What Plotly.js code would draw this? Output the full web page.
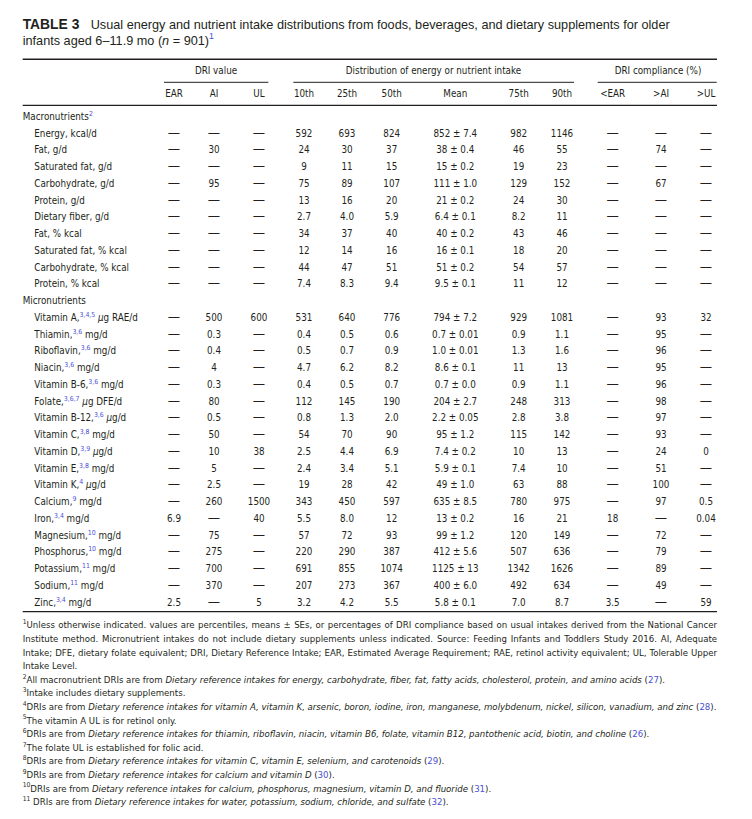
<!DOCTYPE html>
<html><head><meta charset="utf-8">
<script src="https://cdn.plot.ly/plotly-3.0.1.min.js"></script>
<style>html,body{margin:0;padding:0;background:#fff}#chart{width:752px;height:819px}</style>
</head><body><div id="chart"></div>
<script>
// ---------------- DATA ----------------
const sections = ['Macronutrients', 'Micronutrients'];
const sectionRefs = ['2', null];
const sectionCounts = [10, 18];

const rowLabels = ['Energy, kcal/d','Fat, g/d','Saturated fat, g/d','Carbohydrate, g/d','Protein, g/d','Dietary fiber, g/d','Fat, % kcal','Saturated fat, % kcal','Carbohydrate, % kcal','Protein, % kcal',
  'Vitamin A','Thiamin','Riboflavin','Niacin','Vitamin B-6','Folate','Vitamin B-12','Vitamin C','Vitamin D','Vitamin E','Vitamin K','Calcium','Iron','Magnesium','Phosphorus','Potassium','Sodium','Zinc'];
const rowRefs = [null,null,null,null,null,null,null,null,null,null,
  '3,4,5','3,6','3,6','3,6','3,6','3,6,7','3,6','3,8','3,9','3,8','4','9','3,4','10','10','11','11','3,4'];
const rowUnits = [null,null,null,null,null,null,null,null,null,null,
  'μg RAE/d','mg/d','mg/d','mg/d','mg/d','μg DFE/d','μg/d','mg/d','μg/d','mg/d','μg/d','mg/d','mg/d','mg/d','mg/d','mg/d','mg/d','mg/d'];

const colHeaders = ['EAR','AI','UL','10th','25th','50th','Mean','75th','90th','&lt;EAR','&gt;AI','&gt;UL'];
const groupHeaders = ['DRI value','Distribution of energy or nutrient intake','DRI compliance (%)'];

const EAR = [null,null,null,null,null,null,null,null,null,null,
  null,null,null,null,null,null,null,null,null,null,null,null,'6.9',null,null,null,null,'2.5'];
const AI = [null,'30',null,'95',null,null,null,null,null,null,
  '500','0.3','0.4','4','0.3','80','0.5','50','10','5','2.5','260',null,'75','275','700','370',null];
const UL = [null,null,null,null,null,null,null,null,null,null,
  '600',null,null,null,null,null,null,null,'38',null,null,'1500','40',null,null,null,null,'5'];
const p10 = ['592','24','9','75','13','2.7','34','12','44','7.4',
  '531','0.4','0.5','4.7','0.4','112','0.8','54','2.5','2.4','19','343','5.5','57','220','691','207','3.2'];
const p25 = ['693','30','11','89','16','4.0','37','14','47','8.3',
  '640','0.5','0.7','6.2','0.5','145','1.3','70','4.4','3.4','28','450','8.0','72','290','855','273','4.2'];
const p50 = ['824','37','15','107','20','5.9','40','16','51','9.4',
  '776','0.6','0.9','8.2','0.7','190','2.0','90','6.9','5.1','42','597','12','93','387','1074','367','5.5'];
const meanVal = ['852','38','15','111','21','6.4','40','16','51','9.5',
  '794','0.7','1.0','8.6','0.7','204','2.2','95','7.4','5.9','49','635','13','99','412','1125','400','5.8'];
const meanSE = ['7.4','0.4','0.2','1.0','0.2','0.1','0.2','0.1','0.2','0.1',
  '7.2','0.01','0.01','0.1','0.0','2.7','0.05','1.2','0.2','0.1','1.0','8.5','0.2','1.2','5.6','13','6.0','0.1'];
const p75 = ['982','46','19','129','24','8.2','43','18','54','11',
  '929','0.9','1.3','11','0.9','248','2.8','115','10','7.4','63','780','16','120','507','1342','492','7.0'];
const p90 = ['1146','55','23','152','30','11','46','20','57','12',
  '1081','1.1','1.6','13','1.1','313','3.8','142','13','10','88','975','21','149','636','1626','634','8.7'];
const belowEAR = [null,null,null,null,null,null,null,null,null,null,
  null,null,null,null,null,null,null,null,null,null,null,null,'18',null,null,null,null,'3.5'];
const aboveAI = [null,'74',null,'67',null,null,null,null,null,null,
  '93','95','96','95','96','98','97','93','24','51','100','97',null,'72','79','89','49',null];
const aboveUL = [null,null,null,null,null,null,null,null,null,null,
  '32',null,null,null,null,null,null,null,'0',null,null,'0.5','0.04',null,null,null,null,'59'];

const notes = [
  {sup:'1', text:'Unless otherwise indicated. values are percentiles, means ± SEs, or percentages of DRI compliance based on usual intakes derived from the National Cancer', justify:true},
  {text:'Institute method. Micronutrient intakes do not include dietary supplements unless indicated. Source: Feeding Infants and Toddlers Study 2016. AI, Adequate', justify:true},
  {text:'Intake; DFE, dietary folate equivalent; DRI, Dietary Reference Intake; EAR, Estimated Average Requirement; RAE, retinol activity equivalent; UL, Tolerable Upper', justify:true},
  {text:'Intake Level.'},
  {sup:'2', text:'All macronutrient DRIs are from ', it:'Dietary reference intakes for energy, carbohydrate, fiber, fat, fatty acids, cholesterol, protein, and amino acids', ref:'27'},
  {sup:'3', text:'Intake includes dietary supplements.'},
  {sup:'4', text:'DRIs are from ', it:'Dietary reference intakes for vitamin A, vitamin K, arsenic, boron, iodine, iron, manganese, molybdenum, nickel, silicon, vanadium, and zinc', ref:'28'},
  {sup:'5', text:'The vitamin A UL is for retinol only.'},
  {sup:'6', text:'DRIs are from ', it:'Dietary reference intakes for thiamin, riboflavin, niacin, vitamin B6, folate, vitamin B12, pantothenic acid, biotin, and choline', ref:'26'},
  {sup:'7', text:'The folate UL is established for folic acid.'},
  {sup:'8', text:'DRIs are from ', it:'Dietary reference intakes for vitamin C, vitamin E, selenium, and carotenoids', ref:'29'},
  {sup:'9', text:'DRIs are from ', it:'Dietary reference intakes for calcium and vitamin D', ref:'30'},
  {sup:'10', text:'DRIs are from ', it:'Dietary reference intakes for calcium, phosphorus, magnesium, vitamin D, and fluoride', ref:'31'},
  {sup:'11', text:'\u00a0DRIs are from ', it:'Dietary reference intakes for water, potassium, sodium, chloride, and sulfate', ref:'32'}
];

// ---------------- STYLE / LAYOUT CONSTANTS ----------------
const W = 752, H = 819;
const NARROW = '"Liberation Sans Narrow", "Arial Narrow", "DejaVu Sans Condensed", sans-serif';
const SANS = '"Liberation Sans", Arial, Helvetica, sans-serif';
const INK = '#231f20';
const BLUE = '#4a4fd6';
const LEFT = 22.7, RIGHT = 717;
const colCenters = [174, 214, 259, 304, 347, 391.7, 455.3, 518.7, 562, 612.7, 661, 706];
const groupCenters = [216, 433.5, 658];
const groupSpans = [[164, 268.3], [293.3, 574], [597.7, 716.7]];
const firstRowBase = 120, rowPitch = 16.75;
const headerBase = 97.3, groupBase = 74.3;
const indentX = 34.3;
const noteBase0 = 628.3, notePitch = 13.6;

// ---- measure text with the same SVG text engine Plotly uses ----
const svgNS = 'http://www.w3.org/2000/svg';
const msvg = document.createElementNS(svgNS, 'svg');
msvg.setAttribute('width', '10'); msvg.setAttribute('height', '10');
msvg.style.position = 'absolute'; msvg.style.left = '-5000px'; msvg.style.top = '0';
document.body.appendChild(msvg);
function measure(parts, fam) {
  const te = document.createElementNS(svgNS, 'text');
  te.style.fontFamily = fam;
  parts.forEach(p => {
    const ts = document.createElementNS(svgNS, 'tspan');
    ts.textContent = p.t;
    ts.style.fontSize = p.fs + 'px';
    if (p.italic) ts.style.fontStyle = 'italic';
    if (p.bold) ts.style.fontWeight = 'bold';
    te.appendChild(ts);
  });
  msvg.appendChild(te);
  const w = te.getComputedTextLength();
  msvg.removeChild(te);
  return w;
}
// font sizes fitted to widths measured on the reference (table text nudged up to match glyph height)
const FS = 1.08 * 10 * 0.5 * (62.3 / measure([{t:'Macronutrients', fs:10}], NARROW) + 57.3 / measure([{t:'Energy, kcal/d', fs:10}], NARROW));
const DASH = FS * 12.3 / measure([{t:'—', fs:FS}], NARROW);
const TS = 10 * 186.6 / measure([{t:'infants aged 6–11.9 mo (', fs:10}, {t:'n', fs:10, italic:true}, {t:' = 901)', fs:10}], SANS);
const TB = 10 * 56.7 / measure([{t:'TABLE 3', fs:10, bold:true}], SANS);
const n4 = notes[6];
const FN = 10 * 695 / measure([{t:n4.sup, fs:7}, {t:n4.text, fs:10}, {t:n4.it, fs:10, italic:true}, {t:' (' + n4.ref + ').', fs:10}], NARROW);

function yFromBase(b, fs) { return b - 0.25 * fs; }
function txt(xs, ys, texts, fs, family, pos, color) {
  return {type:'scatter', mode:'text', x:xs, y:ys, text:texts, textposition:pos || 'middle center',
    textfont:{family:family || NARROW, size:fs, color:color || INK},
    hoverinfo:'skip', cliponaxis:false, showlegend:false};
}
function cell(v) { return v === null ? '<span style="font-size:' + DASH.toFixed(2) + 'px">—</span>' : v; }
function blueSup(s) { return '<sup><span style="color:' + BLUE + '">' + s + '</span></sup>'; }

// ---------------- BUILD ROWS ----------------
const secX = [], secY = [], secT = [];
const itemX = [], itemY = [], itemT = [];
const dataRows = [];
let r = 0, k = 0;
sections.forEach((s, si) => {
  secX.push(LEFT); secY.push(yFromBase(firstRowBase + r * rowPitch, FS));
  secT.push(s + (sectionRefs[si] ? blueSup(sectionRefs[si]) : ''));
  r++;
  for (let j = 0; j < sectionCounts[si]; j++, k++, r++) {
    let lab = rowLabels[k];
    if (rowRefs[k]) lab += ',' + blueSup(rowRefs[k]) + ' ' + rowUnits[k].replace('μ', '<i>μ</i>');
    itemX.push(indentX); itemY.push(yFromBase(firstRowBase + r * rowPitch, FS)); itemT.push(lab);
    dataRows.push({row:r, idx:k});
  }
});

const meanText = meanVal.map((m, i) => m + ' ± ' + meanSE[i]);
const columns = [EAR, AI, UL, p10, p25, p50, meanText, p75, p90, belowEAR, aboveAI, aboveUL];

const traces = [];
traces.push(txt(secX, secY, secT, FS, NARROW, 'middle right'));
traces.push(txt(itemX, itemY, itemT, FS, NARROW, 'middle right'));
columns.forEach((col, ci) => {
  traces.push(txt(dataRows.map(() => colCenters[ci]),
                  dataRows.map(d => yFromBase(firstRowBase + d.row * rowPitch, FS)),
                  dataRows.map(d => cell(col[d.idx])), FS));
});
traces.push(txt(colCenters, colCenters.map(() => yFromBase(headerBase, FS)), colHeaders, FS));
traces.push(txt(groupCenters, groupCenters.map(() => yFromBase(groupBase, FS)), groupHeaders, FS));

// title
traces.push(txt([LEFT], [yFromBase(29.3, TB)], ['<b>TABLE 3</b>'], TB, SANS, 'middle right'));
traces.push(txt([90.7], [yFromBase(29.3, TS)], ['Usual energy and nutrient intake distributions from foods, beverages, and dietary supplements for older'], TS, SANS, 'middle right'));
traces.push(txt([LEFT], [yFromBase(44.7, TS)], ['infants aged 6–11.9 mo (<i>n</i> = 901)' + blueSup('1')], TS, SANS, 'middle right'));

// footnotes (first three lines justified like the reference)
const noteX = [], noteY = [], noteT = [];
notes.forEach((n, i) => {
  let s = n.sup ? '<sup>' + n.sup + '</sup>' : '';
  if (n.justify) {
    const parts = [{t:n.text, fs:FN}];
    if (n.sup) parts.unshift({t:n.sup, fs:FN * 0.7});
    const wNat = measure(parts, NARROW);
    const spaces = (n.text.match(/ /g) || []).length;
    const ws = Math.max(0, (RIGHT - LEFT - wNat) / spaces);
    s += '<span style="word-spacing:' + ws.toFixed(2) + 'px">' + n.text + '</span>';
  } else {
    s += n.text;
  }
  if (n.it) s += '<i>' + n.it + '</i> (<span style="color:' + BLUE + '">' + n.ref + '</span>).';
  noteX.push(LEFT); noteY.push(yFromBase(noteBase0 + i * notePitch, FN)); noteT.push(s);
});
traces.push(txt(noteX, noteY, noteT, FN, NARROW, 'middle right'));

// rules
function hline(x0, x1, y, w) {
  return {type:'line', xref:'x', yref:'y', x0:x0, x1:x1, y0:y, y1:y, line:{color:INK, width:w}};
}
const shapes = [hline(LEFT, RIGHT, 59.3, 1.4), hline(LEFT, RIGHT, 105.3, 1.3), hline(LEFT, RIGHT, 611.7, 1.3)];
groupSpans.forEach(g => shapes.push(hline(g[0], g[1], 82.3, 1)));

const layout = {
  width: W, height: H, margin:{l:0, r:0, t:0, b:0, pad:0},
  paper_bgcolor:'#fff', plot_bgcolor:'#fff', showlegend:false,
  xaxis:{range:[0, W], visible:false, fixedrange:true},
  yaxis:{range:[H, 0], visible:false, fixedrange:true},
  shapes: shapes
};
document.body.removeChild(msvg);
Plotly.newPlot('chart', traces, layout, {staticPlot:true, displayModeBar:false});
</script>
</body></html>
